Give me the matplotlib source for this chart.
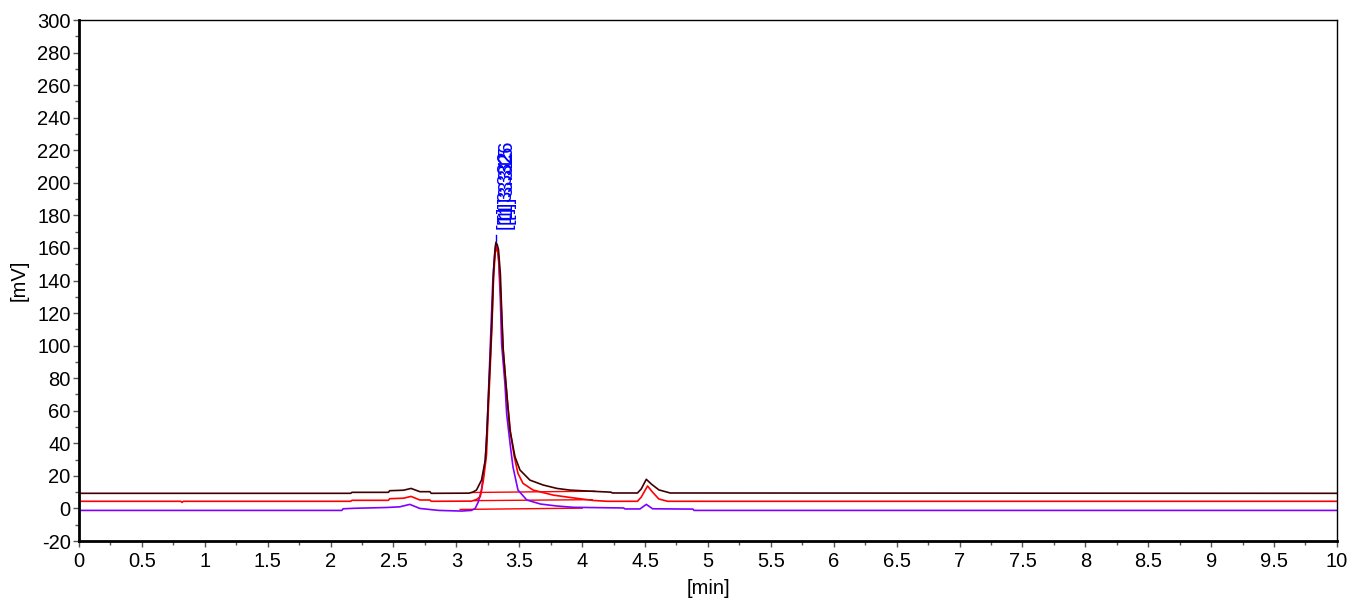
import matplotlib
matplotlib.use("Agg")
import matplotlib.pyplot as plt
from matplotlib.ticker import MultipleLocator

plt.rcParams['font.family'] = ['Liberation Sans', 'DejaVu Sans']
plt.rcParams['axes.unicode_minus'] = False

# -------------------------
# DATA
# -------------------------
t_brown = [0, 2.16, 2.17, 2.46, 2.47, 2.58, 2.64, 2.71, 2.79, 2.80, 3.10, 3.13, 3.16, 3.20,
           3.23, 3.24, 3.254, 3.27, 3.283, 3.296, 3.31, 3.315, 3.325, 3.335, 3.35, 3.36,
           3.373, 3.392, 3.405, 3.426, 3.466, 3.506, 3.585, 3.69, 3.80, 3.90, 4.04, 4.23,
           4.24, 4.44, 4.47, 4.51, 4.55, 4.61, 4.70, 10]
v_brown = [9.3, 9.3, 9.9, 9.9, 10.9, 11.2, 12.3, 10.3, 10.3, 9.3, 9.4, 10.0, 11.3, 17.4,
           29.7, 42, 66.6, 93, 116, 146, 161, 163.5, 162, 159, 144, 122,
           97, 79, 66.6, 48, 31.8, 23.6, 17.4, 14.4, 12.3, 11.3, 10.7, 10.0,
           9.5, 9.5, 12, 17.9, 15, 11.4, 9.5, 9.3]

t_red = [0, 0.81, 0.82, 0.83, 2.16, 2.17, 2.46, 2.47, 2.58, 2.64, 2.71, 2.79, 2.80, 3.12,
         3.16, 3.19, 3.215, 3.24, 3.254, 3.27, 3.283, 3.296, 3.31, 3.318, 3.33, 3.34,
         3.355, 3.37, 3.39, 3.405, 3.43, 3.46, 3.49, 3.53, 3.61, 3.77, 3.90, 4.00, 4.09,
         4.20, 4.44, 4.47, 4.52, 4.56, 4.61, 4.68, 10]
v_red = [4.4, 4.4, 3.7, 4.4, 4.4, 5.0, 5.0, 6.0, 6.3, 7.4, 5.2, 5.2, 4.4, 4.5,
         5.5, 7.2, 17.4, 33, 60, 88, 112, 142, 158, 160, 157, 150,
         128, 100, 80, 67, 47, 32, 21.5, 15.4, 11.3, 8.2, 6.8, 5.8, 4.9,
         4.4, 4.4, 7, 13.8, 10, 5.8, 4.4, 4.4]

t_purple = [0, 2.09, 2.10, 2.19, 2.45, 2.55, 2.63, 2.71, 2.86, 3.04, 3.12, 3.15, 3.175,
            3.20, 3.23, 3.245, 3.26, 3.275, 3.29, 3.305, 3.315, 3.325, 3.335, 3.35, 3.36,
            3.373, 3.387, 3.40, 3.43, 3.45, 3.49, 3.56, 3.67, 3.80, 3.93, 4.33, 4.34,
            4.46, 4.51, 4.56, 4.88, 4.89, 10]
v_purple = [-1.2, -1.2, -0.2, 0.1, 0.6, 1.0, 2.5, 0.0, -1.2, -1.6, -1.2, 0, 4.1,
            11.3, 29.7, 50, 80, 110, 140, 157, 162, 160, 155, 128, 101,
            89, 76, 58, 38, 25.6, 11.3, 5.2, 2.7, 1.5, 0.7, 0.3, -0.3,
            -0.3, 2.5, -0.2, -0.4, -1.2, -1.2]

# integration baselines (start, end) for each trace
base_t = [(3.12, 4.10), (3.14, 4.08), (3.03, 4.00)]
base_v = [(9.8, 10.6), (4.8, 5.4), (-0.6, 0.2)]

peak_t = 3.315
peak_labels = ["[1] 3.332", "[1] 3.315", "[1] 3.326"]
label_shift = [(0.000, 0.0), (0.004, 3.0), (0.008, 6.0)]

x_ticks = [i * 0.5 for i in range(21)]
y_ticks = list(range(-20, 301, 20))

# -------------------------
# FIGURE
# -------------------------
fig = plt.figure(figsize=(13.54, 6.07), dpi=100)
ax = fig.add_axes([0.0583, 0.1087, 0.9291, 0.8583])

for (t0, t1), (v0, v1) in zip(base_t, base_v):
    ax.plot([t0, t1], [v0, v1], color="#ff0000", lw=1.0)

ax.plot(t_purple, v_purple, color="#8000ff", lw=1.2)
ax.plot(t_red, v_red, color="#ff0000", lw=1.2)
ax.plot(t_brown, v_brown, color="#400000", lw=1.2)

ax.plot([peak_t, peak_t], [164, 168], color="#0000ff", lw=1.0)
for lbl, (dx, dy) in zip(peak_labels, label_shift):
    ax.text(peak_t + 0.010 + dx, 171 + dy, lbl, rotation=90, color="#0000ff",
            fontsize=14.5, ha="left", va="bottom")

ax.set_xlim(0, 10)
ax.set_ylim(-20, 300)
ax.set_xticks(x_ticks)
ax.set_xticklabels([f"{x:g}" for x in x_ticks])
ax.set_yticks(y_ticks)
ax.xaxis.set_minor_locator(MultipleLocator(0.25))
ax.yaxis.set_minor_locator(MultipleLocator(10))
ax.tick_params(which="both", direction="out", labelsize=14.5, width=1, color="#555555")
ax.tick_params(which="major", length=4)
ax.tick_params(axis="y", which="major", pad=2)
ax.tick_params(axis="x", which="major", pad=4)
ax.tick_params(which="minor", length=3)

ax.spines["left"].set_linewidth(2)
ax.spines["bottom"].set_linewidth(2)
ax.spines["top"].set_linewidth(1)
ax.spines["right"].set_linewidth(1)

ax.set_xlabel("[min]", fontsize=14.5, labelpad=6)
ax.set_ylabel("[mV]", fontsize=14.5, labelpad=6)

fig.savefig("out.png", dpi=100)
